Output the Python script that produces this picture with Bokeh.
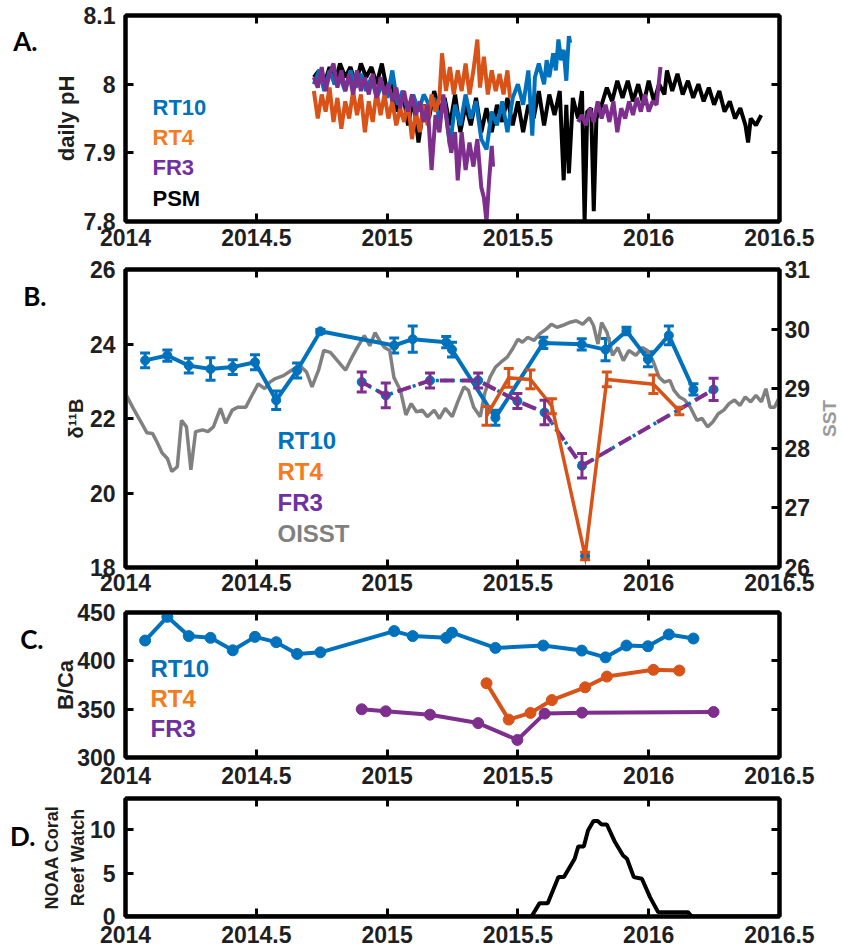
import math
from bokeh.plotting import figure
from bokeh.models import (ColumnDataSource, Range1d, LinearAxis, FixedTicker,
                          CustomJSTickFormatter, Label, Whisker, TeeHead)
from bokeh.layouts import column, row
from bokeh.embed import file_html
from bokeh.resources import INLINE

# ---------------------------------------------------------------- data
X_TICKS = [2014, 2014.5, 2015, 2015.5, 2016, 2016.5]

# A. daily pH
PSM_T = [2014.72, 2014.74, 2014.76, 2014.78, 2014.80, 2014.82, 2014.84, 2014.86, 2014.88, 2014.90,
         2014.92, 2014.94, 2014.96, 2014.98, 2015.00, 2015.02, 2015.04, 2015.06, 2015.08, 2015.10,
         2015.12, 2015.14, 2015.16, 2015.18, 2015.20, 2015.22, 2015.24, 2015.26, 2015.28, 2015.30,
         2015.32, 2015.34, 2015.36, 2015.38, 2015.40, 2015.42, 2015.44, 2015.46, 2015.48, 2015.50,
         2015.52, 2015.54, 2015.56, 2015.58, 2015.60, 2015.62, 2015.64, 2015.66, 2015.675, 2015.685,
         2015.695, 2015.71, 2015.73, 2015.745, 2015.755, 2015.765, 2015.78, 2015.79, 2015.80, 2015.82,
         2015.84, 2015.86, 2015.88, 2015.90, 2015.92, 2015.94, 2015.96, 2015.98, 2016.00, 2016.02,
         2016.04, 2016.06, 2016.07, 2016.09, 2016.11, 2016.13, 2016.15, 2016.17, 2016.19, 2016.21,
         2016.23, 2016.25, 2016.27, 2016.29, 2016.31, 2016.33, 2016.35, 2016.37, 2016.38, 2016.39,
         2016.41, 2016.43]
PSM_PH = [8.010, 8.020, 8.000, 8.025, 8.000, 8.030, 8.010, 8.025, 8.000, 8.030,
          8.010, 8.025, 8.000, 8.030, 7.990, 8.000, 7.960, 7.990, 7.940, 7.980,
          7.915, 7.970, 7.950, 7.990, 7.960, 7.980, 7.940, 7.985, 7.930, 7.970,
          7.940, 7.980, 7.930, 7.965, 7.930, 7.970, 7.945, 7.980, 7.940, 7.975,
          7.930, 7.970, 7.950, 7.990, 7.940, 7.985, 7.955, 7.990, 7.860, 7.970,
          7.870, 7.980, 7.950, 7.990, 7.800, 7.960, 7.965, 7.815, 7.950, 7.970,
          7.995, 7.975, 8.005, 7.980, 8.005, 7.975, 8.000, 7.970, 8.005, 7.975,
          8.000, 7.985, 8.020, 7.990, 8.015, 7.985, 8.005, 7.980, 8.000, 7.975,
          7.995, 7.970, 7.990, 7.960, 7.975, 7.950, 7.965, 7.940, 7.915, 7.950,
          7.940, 7.955]

RT10_PH_T = [2014.72, 2014.74, 2014.76, 2014.78, 2014.80, 2014.82, 2014.84, 2014.86, 2014.88, 2014.90,
             2014.92, 2014.94, 2014.96, 2014.98, 2015.00, 2015.02, 2015.04, 2015.06, 2015.08, 2015.10,
             2015.12, 2015.14, 2015.16, 2015.18, 2015.20, 2015.22, 2015.24, 2015.26, 2015.28, 2015.30,
             2015.32, 2015.34, 2015.36, 2015.38, 2015.40, 2015.42, 2015.44, 2015.46, 2015.48, 2015.50,
             2015.52, 2015.54, 2015.555, 2015.565, 2015.58, 2015.60, 2015.61, 2015.62, 2015.635, 2015.645,
             2015.655, 2015.665, 2015.675, 2015.685, 2015.69, 2015.695, 2015.70]
RT10_PH = [8.000, 8.020, 7.990, 8.020, 8.000, 8.010, 7.990, 8.020, 7.995, 8.015,
           7.990, 8.010, 7.980, 8.000, 7.980, 8.020, 7.970, 7.990, 7.960, 7.985,
           7.960, 7.985, 7.970, 7.980, 7.950, 7.975, 7.910, 7.970, 7.940, 7.985,
           7.950, 7.975, 7.920, 7.905, 7.960, 7.940, 7.975, 7.930, 7.980, 8.000,
           7.970, 8.020, 7.925, 8.010, 8.030, 8.000, 8.035, 8.010, 8.045, 8.020,
           8.065, 8.035, 8.050, 8.005, 8.040, 8.070, 8.060]

RT4_PH_T = [2014.72, 2014.735, 2014.75, 2014.765, 2014.78, 2014.795, 2014.81, 2014.825, 2014.84, 2014.855,
            2014.87, 2014.885, 2014.90, 2014.915, 2014.93, 2014.945, 2014.96, 2014.975, 2014.99, 2015.005,
            2015.02, 2015.035, 2015.05, 2015.065, 2015.08, 2015.095, 2015.11, 2015.125, 2015.14, 2015.155,
            2015.17, 2015.185, 2015.20, 2015.21, 2015.225, 2015.24, 2015.255, 2015.27, 2015.285, 2015.30,
            2015.315, 2015.33, 2015.345, 2015.355, 2015.37, 2015.385, 2015.40, 2015.415, 2015.43, 2015.445,
            2015.46, 2015.47]
RT4_PH = [7.990, 7.950, 7.985, 7.960, 7.995, 7.945, 7.980, 7.935, 7.975, 7.950,
          7.990, 7.955, 7.985, 7.930, 7.975, 7.945, 7.990, 7.955, 7.985, 7.950,
          7.975, 7.940, 7.965, 7.945, 7.975, 7.920, 7.960, 7.930, 7.970, 7.940,
          7.985, 7.960, 7.980, 8.045, 7.990, 8.025, 7.985, 8.020, 7.990, 8.030,
          7.985, 8.020, 8.065, 7.995, 8.040, 7.985, 8.020, 7.990, 8.015, 7.985,
          8.020, 7.980]

FR3_PH_T1 = [2014.72, 2014.735, 2014.75, 2014.765, 2014.78, 2014.795, 2014.81, 2014.825, 2014.84, 2014.855,
             2014.87, 2014.885, 2014.90, 2014.915, 2014.93, 2014.945, 2014.96, 2014.975, 2014.99, 2015.005,
             2015.02, 2015.035, 2015.05, 2015.065, 2015.08, 2015.095, 2015.11, 2015.125, 2015.14, 2015.155,
             2015.17, 2015.185, 2015.20, 2015.215, 2015.23, 2015.245, 2015.26, 2015.27, 2015.285, 2015.30,
             2015.315, 2015.33, 2015.345, 2015.36, 2015.37, 2015.38, 2015.39, 2015.40, 2015.405]
FR3_PH1 = [8.010, 7.995, 8.025, 7.990, 8.015, 8.030, 7.995, 8.020, 7.990, 8.015,
           7.985, 8.020, 7.990, 8.010, 7.985, 8.015, 7.980, 8.010, 7.985, 8.000,
           7.975, 7.995, 7.965, 7.990, 7.960, 7.985, 7.955, 7.975, 7.945, 7.970,
           7.875, 7.955, 7.930, 7.985, 7.940, 7.900, 7.930, 7.860, 7.930, 7.875,
           7.915, 7.880, 7.920, 7.850, 7.835, 7.800, 7.860, 7.910, 7.880]
FR3_PH_T2 = [2015.73, 2015.745, 2015.76, 2015.775, 2015.79, 2015.805, 2015.82, 2015.835, 2015.85, 2015.865,
             2015.88, 2015.895, 2015.91, 2015.925, 2015.94, 2015.955, 2015.97, 2015.985, 2016.00, 2016.015,
             2016.03, 2016.045]
FR3_PH2 = [7.945, 7.955, 7.940, 7.965, 7.945, 7.975, 7.950, 7.970, 7.945, 7.975,
           7.930, 7.965, 7.950, 7.975, 7.955, 7.980, 7.960, 7.985, 7.960, 7.975,
           7.970, 8.025]

# B. / C. coral samples
RT10_T = [2014.075, 2014.160, 2014.242, 2014.325, 2014.410, 2014.495, 2014.576, 2014.656, 2014.745,
          2015.027, 2015.098, 2015.226, 2015.248, 2015.414, 2015.597, 2015.744, 2015.835, 2015.915,
          2015.997, 2016.077, 2016.171]
RT10_D11B = [23.56, 23.69, 23.42, 23.33, 23.38, 23.51, 22.49, 23.29, 24.34,
             23.96, 24.13, 24.05, 23.85, 22.02, 24.03, 23.99, 23.85, 24.35,
             23.59, 24.23, 22.78]
RT10_ERR = [0.20, 0.15, 0.20, 0.30, 0.20, 0.20, 0.25, 0.20, 0.05,
            0.20, 0.35, 0.15, 0.20, 0.20, 0.15, 0.15, 0.30, 0.10,
            0.20, 0.25, 0.15]
RT10_BCA = [421.0, 445.5, 425.6, 423.8, 410.9, 424.8, 419.3, 407.1, 408.8,
            430.8, 425.6, 423.8, 429.1, 413.4, 415.8, 410.6, 403.6, 415.8,
            415.1, 427.3, 423.1]

RT4_T = [2015.380, 2015.465, 2015.548, 2015.630, 2015.757, 2015.840, 2016.018, 2016.117]
RT4_D11B = [22.07, 23.09, 23.05, 22.33, 18.31, 23.05, 22.92, 22.20]
RT4_ERR = [0.25, 0.25, 0.25, 0.20, 0.10, 0.20, 0.25, 0.10]
RT4_BCA = [376.8, 339.2, 346.1, 359.4, 372.6, 383.7, 390.7, 390.0]

FR3_T = [2014.903, 2014.995, 2015.164, 2015.348, 2015.498, 2015.602, 2015.745, 2016.248]
FR3_D11B = [22.98, 22.62, 23.02, 23.02, 22.47, 22.16, 20.73, 22.78]
FR3_ERR = [0.27, 0.33, 0.20, 0.20, 0.20, 0.33, 0.33, 0.30]
FR3_BCA = [349.9, 347.8, 344.3, 335.6, 318.2, 345.4, 346.4, 347.1]

# OISST sea surface temperature
SST_T = [2014.000, 2014.027, 2014.062, 2014.082, 2014.103, 2014.120, 2014.140, 2014.160, 2014.177, 2014.198,
         2014.214, 2014.233, 2014.250, 2014.268, 2014.295, 2014.315, 2014.336, 2014.363, 2014.383, 2014.408,
         2014.429, 2014.460, 2014.480, 2014.507, 2014.532, 2014.552, 2014.573, 2014.604, 2014.635, 2014.666,
         2014.692, 2014.713, 2014.738, 2014.758, 2014.783, 2014.810, 2014.841, 2014.866, 2014.886, 2014.913,
         2014.934, 2014.954, 2014.975, 2014.990, 2015.010, 2015.026, 2015.051, 2015.072, 2015.092, 2015.113,
         2015.134, 2015.154, 2015.180, 2015.200, 2015.222, 2015.249, 2015.270, 2015.294, 2015.311, 2015.331,
         2015.356, 2015.373, 2015.393, 2015.414, 2015.434, 2015.459, 2015.480, 2015.500, 2015.517, 2015.537,
         2015.562, 2015.583, 2015.608, 2015.628, 2015.649, 2015.670, 2015.696, 2015.723, 2015.748, 2015.773,
         2015.789, 2015.806, 2015.820, 2015.841, 2015.862, 2015.882, 2015.903, 2015.924, 2015.951, 2015.975,
         2015.995, 2016.016, 2016.040, 2016.060, 2016.081, 2016.097, 2016.118, 2016.138, 2016.159, 2016.184,
         2016.204, 2016.225, 2016.245, 2016.266, 2016.287, 2016.307, 2016.328, 2016.349, 2016.369, 2016.390,
         2016.410, 2016.431, 2016.448, 2016.464, 2016.481, 2016.500]
SST = [28.92, 28.69, 28.42, 28.26, 28.25, 28.11, 27.92, 27.83, 27.61, 27.69,
       28.47, 28.36, 27.64, 28.28, 28.31, 28.28, 28.36, 28.67, 28.42, 28.64,
       28.69, 28.69, 28.86, 29.08, 29.00, 29.11, 29.17, 29.22, 29.31, 29.39,
       29.28, 29.03, 29.31, 29.64, 29.61, 29.47, 29.31, 29.53, 29.69, 29.89,
       29.72, 29.94, 29.78, 29.69, 29.64, 29.19, 28.97, 28.56, 28.75, 28.61,
       28.64, 28.53, 28.64, 28.50, 28.67, 28.53, 28.78, 29.03, 28.97, 28.69,
       28.53, 28.92, 29.19, 29.36, 29.44, 29.53, 29.67, 29.83, 29.78, 29.86,
       29.81, 29.92, 30.00, 30.08, 30.03, 30.06, 30.11, 30.14, 30.08, 30.19,
       30.06, 29.75, 30.11, 29.94, 29.56, 29.69, 29.47, 29.64, 29.56, 29.69,
       29.64, 29.47, 29.19, 29.11, 29.14, 28.97, 28.86, 28.81, 28.69, 28.47,
       28.50, 28.36, 28.44, 28.58, 28.64, 28.75, 28.81, 28.72, 28.86, 28.78,
       28.89, 28.78, 29.00, 28.69, 28.69, 28.86]

# D. NOAA Coral Reef Watch degree heating weeks
CRW_T = [2014.000, 2015.552, 2015.583, 2015.614, 2015.655, 2015.676, 2015.717, 2015.731, 2015.752, 2015.768,
         2015.789, 2015.805, 2015.820, 2015.840, 2015.871, 2015.902, 2015.917, 2015.943, 2015.974, 2016.005,
         2016.036, 2016.053, 2016.150, 2016.164, 2016.500]
CRW = [0.0, 0.0, 1.54, 1.54, 4.54, 4.54, 6.65, 8.08, 8.08, 9.92,
       11.0, 11.0, 10.6, 10.6, 8.58, 7.04, 6.65, 4.54, 4.35, 2.23,
       0.5, 0.5, 0.5, 0.0, 0.0]

# ---------------------------------------------------------------- style
BLUE, ORANGE, PURPLE, GRAY = "#0072BD", "#D95319", "#7E2F8E", "#808080"
TXT_ORANGE, TXT_PURPLE = "#F47B20", "#7030A0"
SANS = "'Liberation Sans', Arial, sans-serif"
LETTER = "Lato, 'Open Sans', sans-serif"
INK = "#1f1f1f"

X0, X1 = 2014.0, 2016.5
TOTAL_H = 951
RIGHT_STRIP = 24                      # strip on the right holding the SST title
FRAME_L, FRAME_W, FRAME_R = 125, 654, 779
MAIN_RIGHT = 842 - RIGHT_STRIP - FRAME_R
FMT = CustomJSTickFormatter(code="return String(tick);")
BLANK = CustomJSTickFormatter(code="return '';")
GEOM = {}


def style_axis(ax, ticks, labels=True, standoff=10):
    ax.ticker = FixedTicker(ticks=ticks)
    ax.axis_line_width = 4
    ax.axis_line_color = "black"
    ax.major_tick_in = 8
    ax.major_tick_out = 0
    ax.major_tick_line_width = 3
    ax.major_tick_line_color = "black"
    ax.minor_tick_line_color = None
    if labels:
        ax.formatter = FMT
        ax.major_label_text_font = SANS
        ax.major_label_text_font_style = "bold"
        ax.major_label_text_font_size = "23px"
        ax.major_label_text_color = INK
        ax.major_label_standoff = standoff
    else:
        ax.formatter = BLANK
        ax.major_label_text_font_size = "1px"
        ax.major_label_text_color = None
        ax.major_label_standoff = 0


def title_axis(ax, label, standoff, size):
    ax.axis_label = label
    ax.axis_label_standoff = standoff
    ax.axis_label_text_font = SANS
    ax.axis_label_text_font_style = "bold"
    ax.axis_label_text_font_size = f"{size}px"
    ax.axis_label_text_color = INK


def to_y(p, py):
    # py: vertical page position; returns the matching data value of panel p
    ft, fb, y0, y1 = GEOM[p.id]
    return y1 - (py - ft) / (fb - ft) * (y1 - y0)


def letter_axis(p, letter, py, standoff):
    # outermost left axis whose single tick label is the panel letter
    ax = LinearAxis(ticker=FixedTicker(ticks=[to_y(p, py)]),
                    formatter=CustomJSTickFormatter(code=f"return '{letter}';"),
                    axis_line_color=None, major_tick_line_color=None,
                    minor_tick_line_color=None,
                    major_label_text_font=LETTER, major_label_text_font_size="26px",
                    major_label_text_font_style="bold", major_label_text_color="black",
                    major_label_standoff=standoff)
    p.add_layout(ax, "left")


def panel(page_top, top, frame_h, bottom, y0, y1, yticks, ylabel, label_standoff,
          label_size=22, right_labels=False, x_standoff=9):
    p = figure(frame_width=FRAME_W, frame_height=frame_h,
               min_border_left=FRAME_L, min_border_right=MAIN_RIGHT,
               min_border_top=top, min_border_bottom=bottom,
               x_range=Range1d(X0, X1), y_range=Range1d(y0, y1),
               output_backend="svg", toolbar_location=None)
    p.xgrid.visible = False
    p.ygrid.visible = False
    p.outline_line_color = "black"
    p.outline_line_width = 4
    p.outline_line_alpha = 1.0
    p.border_fill_color = "white"
    style_axis(p.xaxis[0], X_TICKS, standoff=x_standoff)
    yax = p.yaxis[0]
    style_axis(yax, yticks, standoff=10)
    title_axis(yax, ylabel, label_standoff, label_size)
    upper = LinearAxis()
    style_axis(upper, X_TICKS, labels=False)
    p.add_layout(upper, "above")
    if not right_labels:
        side = LinearAxis()
        style_axis(side, yticks, labels=False)
        p.add_layout(side, "right")
    frame_top = page_top + top
    GEOM[p.id] = (frame_top, frame_top + frame_h, y0, y1)
    return p


def text(p, px, py, s, size, color):
    x = X0 + (px - FRAME_L) / FRAME_W * (X1 - X0)
    p.add_layout(Label(x=x, y=to_y(p, py), text=s, text_font=SANS, text_font_size=f"{size}px",
                       text_font_style="bold", text_color=color, text_align="left",
                       text_baseline="middle"))


def errorbars(p, t, v, e, color, width=3, head=10, level="underlay"):
    src = ColumnDataSource(dict(x=t, lo=[a - b for a, b in zip(v, e)],
                                hi=[a + b for a, b in zip(v, e)]))
    w = Whisker(source=src, base="x", lower="lo", upper="hi",
                line_color=color, line_width=width,
                lower_head=TeeHead(size=head, line_color=color, line_width=width),
                upper_head=TeeHead(size=head, line_color=color, line_width=width),
                level=level)
    p.add_layout(w)


# ---------------------------------------------------------------- A. daily pH
pa = panel(0, 15, 206, 34, 7.8, 8.1, [7.8, 7.9, 8.0, 8.1], "daily pH", 2, x_standoff=7)
letter_axis(pa, "A.", 40, 7)
pa.line(PSM_T, PSM_PH, line_color="black", line_width=4)
pa.line(RT10_PH_T, RT10_PH, line_color=BLUE, line_width=4)
pa.line(RT4_PH_T, RT4_PH, line_color=ORANGE, line_width=4)
pa.line(FR3_PH_T1, FR3_PH1, line_color=PURPLE, line_width=4)
pa.line(FR3_PH_T2, FR3_PH2, line_color=PURPLE, line_width=4)
for name, col, yy in (("RT10", BLUE, 107), ("RT4", TXT_ORANGE, 137),
                      ("FR3", TXT_PURPLE, 167), ("PSM", "black", 198)):
    text(pa, 152, yy, name, 22, col)

# ---------------------------------------------------------------- B. d11B and SST
pb = panel(255, 14, 298, 32, 18, 26, [18, 20, 22, 24, 26], "\u03b4\u00b9\u00b9B", 0,
           label_size=20, right_labels=True, x_standoff=6)
letter_axis(pb, "B.", 295, 9)
pb.extra_y_ranges = {"sst": Range1d(26, 31)}
sst_axis = LinearAxis(y_range_name="sst")
style_axis(sst_axis, [26, 27, 28, 29, 30, 31], standoff=5)
pb.add_layout(sst_axis, "right")

pb.line(SST_T, SST, y_range_name="sst", line_color=GRAY, line_width=3.5)

errorbars(pb, RT10_T, RT10_D11B, RT10_ERR, BLUE)
pb.line(RT10_T, RT10_D11B, line_color=BLUE, line_width=4)
pb.scatter(RT10_T, RT10_D11B, size=9, fill_color=BLUE, line_color=BLUE)

pb.scatter(FR3_T, FR3_D11B, size=9, fill_color=BLUE, line_color=BLUE)
pb.line(FR3_T, FR3_D11B, line_color=BLUE, line_width=3.5, line_dash="3 5")
pb.line(FR3_T, FR3_D11B, line_color=PURPLE, line_width=4, line_dash="14 8",
        line_dash_offset=4)
errorbars(pb, FR3_T, FR3_D11B, FR3_ERR, PURPLE, level="annotation")

pb.line(RT4_T, RT4_D11B, line_color=ORANGE, line_width=3.5, line_join="miter")
errorbars(pb, RT4_T, RT4_D11B, RT4_ERR, ORANGE, level="annotation")
pb.scatter(RT4_T[4:5], RT4_D11B[4:5], size=9, fill_color=BLUE, line_color=BLUE)

for name, col, yy in (("RT10", BLUE, 440), ("RT4", TXT_ORANGE, 471),
                      ("FR3", TXT_PURPLE, 502), ("OISST", GRAY, 533)):
    text(pb, 277, yy, name, 24, col)

# ---------------------------------------------------------------- C. B/Ca
pc = panel(599, 13, 145, 36, 300, 450, [300, 350, 400, 450], "B/Ca", -4)
letter_axis(pc, "C.", 638, 1)
pc.line(RT10_T, RT10_BCA, line_color=BLUE, line_width=4)
pc.scatter(RT10_T, RT10_BCA, size=11, fill_color=BLUE, line_color=BLUE)
pc.line(RT4_T, RT4_BCA, line_color=ORANGE, line_width=4)
pc.scatter(RT4_T, RT4_BCA, size=11, fill_color=ORANGE, line_color=ORANGE)
pc.line(FR3_T, FR3_BCA, line_color=PURPLE, line_width=4)
pc.scatter(FR3_T, FR3_BCA, size=11, fill_color=PURPLE, line_color=PURPLE)
for name, col, yy in (("RT10", BLUE, 668), ("RT4", TXT_ORANGE, 698),
                      ("FR3", TXT_PURPLE, 728)):
    text(pc, 150, yy, name, 24, col)

# ---------------------------------------------------------------- D. Coral Reef Watch
pd_ = panel(793, 5, 118, 35, 0, 13.6, [0, 5, 10], "Reef Watch", -1, label_size=18)
outer = LinearAxis(ticker=FixedTicker(ticks=[]), formatter=BLANK, axis_line_color=None,
                   major_tick_line_color=None, minor_tick_line_color=None,
                   major_label_text_font_size="1px", major_label_standoff=0)
title_axis(outer, "NOAA Coral", 3, 18)
pd_.add_layout(outer, "left")
letter_axis(pd_, "D.", 835, -3)
pd_.line(CRW_T, CRW, line_color="black", line_width=4)

# ---------------------------------------------------------------- SST title strip
sst_strip = figure(frame_width=RIGHT_STRIP, frame_height=TOTAL_H,
                   min_border_left=0, min_border_right=0, min_border_top=0, min_border_bottom=0,
                   x_range=Range1d(0, RIGHT_STRIP), y_range=Range1d(TOTAL_H, 0),
                   x_axis_location=None, y_axis_location=None,
                   output_backend="svg", toolbar_location=None)
sst_strip.xgrid.visible = False
sst_strip.ygrid.visible = False
sst_strip.outline_line_color = None
sst_strip.add_layout(Label(x=829 - (842 - RIGHT_STRIP), y=418, text="SST", text_font=SANS,
                           text_font_size="19px", text_font_style="bold",
                           text_color="#9a9a9a", text_align="center",
                           text_baseline="middle", angle=math.pi / 2))

layout = row(column(pa, pb, pc, pd_, spacing=0), sst_strip, spacing=0)
open("out.html", "w").write(file_html(layout, INLINE))
